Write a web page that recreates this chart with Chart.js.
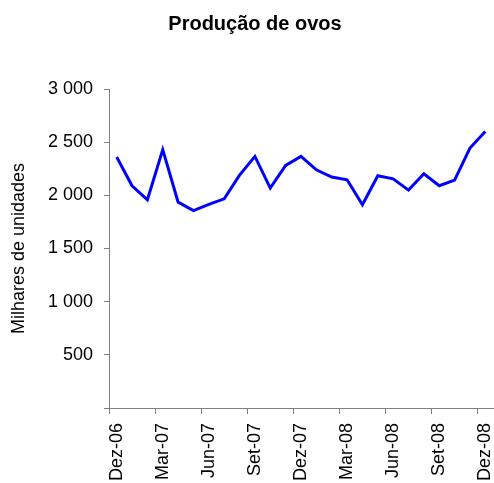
<!DOCTYPE html>
<html>
<head>
<meta charset="utf-8">
<script src="https://cdn.jsdelivr.net/npm/chart.js@4/dist/chart.umd.min.js"></script>
<style>
  body { margin: 0; background: #fff; }
</style>
</head>
<body>
<canvas id="chart" width="494" height="483"></canvas>
<script>
// monthly egg production, Dez-06 .. Dez-08
const months = [
    'Dez-06', 'Jan-07', 'Fev-07', 'Mar-07', 'Abr-07', 'Mai-07', 'Jun-07',
    'Jul-07', 'Ago-07', 'Set-07', 'Out-07', 'Nov-07', 'Dez-07',
    'Jan-08', 'Fev-08', 'Mar-08', 'Abr-08', 'Mai-08', 'Jun-08',
    'Jul-08', 'Ago-08', 'Set-08', 'Out-08', 'Nov-08', 'Dez-08'
];
const eggs = [
    2360, 2090, 1958, 2430, 1936, 1857, 1915,
    1967, 2190, 2366, 2068, 2281, 2366,
    2240, 2172, 2146, 1911, 2184, 2155,
    2049, 2203, 2090, 2143, 2445, 2601
];
const yTicks = [0, 500, 1000, 1500, 2000, 2500, 3000];

const fontFamily = '"Liberation Sans", Arial, sans-serif';
const axisGray = '#808080';

// title drawn by hand so it can sit slightly right of canvas centre like the original
const titlePlugin = {
    id: 'titleAt',
    afterDraw(chart) {
        const ctx = chart.ctx;
        ctx.save();
        ctx.font = 'bold 20px ' + fontFamily;
        ctx.fillStyle = '#000';
        ctx.textAlign = 'center';
        ctx.textBaseline = 'middle';
        ctx.fillText('Produção de ovos', 255, 24);
        ctx.restore();
    }
};

const fmt = v => {
    if (v === 0) return '';
    const s = String(v);
    return s.length > 3 ? s.slice(0, -3) + ' ' + s.slice(-3) : s;
};

new Chart(document.getElementById('chart'), {
    type: 'line',
    data: {
        labels: months,
        datasets: [{
            label: 'Produção de ovos',
            data: eggs,
            borderColor: '#0000ff',
            borderWidth: 3,
            pointRadius: 0,
            tension: 0,
            fill: false
        }]
    },
    options: {
        responsive: false,
        animation: false,
        layout: { padding: { top: 89, right: 1, left: 0, bottom: 0 } },
        plugins: {
            legend: { display: false },
            title: { display: false },
            tooltip: { enabled: false }
        },
        scales: {
            x: {
                offset: true,
                afterFit: s => {
                    s.height = 75;
                    s.paddingLeft = 0;
                    s.paddingRight = 0;
                },
                border: { color: axisGray, width: 1 },
                grid: {
                    offset: true,
                    drawOnChartArea: false,
                    tickLength: 6,
                    tickColor: c => (c.index !== undefined && c.index % 3 === 0) ? axisGray : 'rgba(0,0,0,0)'
                },
                ticks: {
                    autoSkip: false,
                    minRotation: 90,
                    maxRotation: 90,
                    padding: 9,
                    color: '#000',
                    font: { family: fontFamily, size: 18 },
                    callback: (v, i) => i % 3 === 0 ? months[i] : ''
                }
            },
            y: {
                min: 0,
                max: 3000,
                afterFit: s => { s.width = 109; },
                afterBuildTicks: s => { s.ticks = yTicks.map(v => ({ value: v })); },
                border: { color: axisGray, width: 1 },
                grid: {
                    drawOnChartArea: false,
                    tickLength: 5,
                    tickColor: axisGray
                },
                ticks: {
                    padding: 11,
                    color: '#000',
                    font: { family: fontFamily, size: 18 },
                    callback: v => fmt(v)
                },
                title: {
                    display: true,
                    text: 'Milhares de unidades',
                    color: '#000',
                    font: { family: fontFamily, size: 18 },
                    padding: { top: 8, bottom: 0 }
                }
            }
        }
    },
    plugins: [titlePlugin]
});
</script>
</body>
</html>
